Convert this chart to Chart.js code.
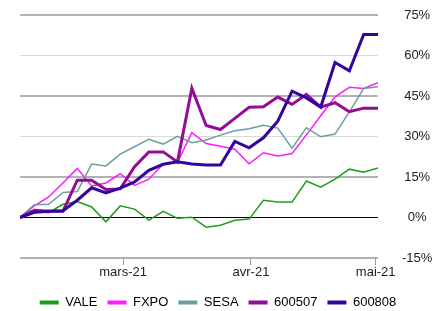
<!DOCTYPE html>
<html>
<head>
<meta charset="utf-8">
<script src="https://cdn.jsdelivr.net/npm/chart.js@4.4.0/dist/chart.umd.min.js"></script>
<style>
  html, body { margin: 0; padding: 0; background: #fff; }
</style>
</head>
<body>
<canvas id="myChart" width="447" height="311"></canvas>
<script>
// cumulative returns, % (one point every ~3.5 days, Feb -> early May 2021)
const seriesNames = ['VALE', 'FXPO', 'SESA', '600507', '600808'];
const vale = [0, 2.4, 1.8, 4.9, 5.9, 3.9, -1.6, 4.3, 3.1, -1.0, 2.3, -0.3, 0.1, -3.6, -2.9, -1.0, -0.6,
    6.4, 5.7, 5.7, 13.5, 11.2, 14.2, 17.9, 16.8, 18.3];
const fxpo = [0, 4.3, 7.6, 12.8, 18.2, 11.7, 12.8, 16.2, 11.9, 14.2, 19.8, 20.4, 31.4, 27.4, 26.4, 25.3, 19.9,
    24.0, 22.8, 23.7, 30.6, 37.7, 44.7, 48.2, 47.8, 49.9];
const sesa = [0, 4.7, 4.9, 9.3, 9.6, 19.8, 19.1, 23.5, 26.2, 29.0, 27.2, 30.1, 27.7, 28.7, 30.5, 32.1, 32.9,
    34.2, 33.1, 25.7, 33.2, 29.9, 30.9, 39.1, 47.8, 48.4];
const s600507 = [0, 2.7, 2.3, 2.3, 13.8, 13.8, 10.4, 10.6, 18.8, 24.3, 24.3, 20.6, 47.9, 34.1, 32.6, 36.7, 40.8,
    41.0, 44.6, 41.9, 45.6, 40.9, 42.5, 39.2, 40.5, 40.5];
const s600808 = [0, 1.9, 2.3, 2.5, 6.4, 11.0, 9.1, 10.9, 13.2, 17.5, 19.7, 20.6, 19.8, 19.4, 19.4, 28.2, 25.8,
    29.5, 35.7, 46.8, 44.3, 40.9, 57.4, 54.3, 67.8, 67.8];
const seriesColors = ['#1c9e1c', '#ff1aff', '#6b9e9e', '#940c96', '#34059e'];
const seriesWidths = [1.5, 1.5, 1.5, 3, 3];

// month ticks sit between points, so they are given as point positions
const monthTicks = [7.2, 16.13, 24.84];
const monthLabels = ['mars-21', 'avr-21', 'mai-21'];
const yMin = -15, yMax = 75, yStep = 15;

const allSeries = [vale, fxpo, sesa, s600507, s600808];

function toPoints(arr) {
    return arr.map(function (v, i) { return { x: i, y: v }; });
}

const datasets = allSeries.map(function (arr, k) {
    return {
        label: seriesNames[k],
        data: toPoints(arr),
        xAxisID: 'x',
        yAxisID: 'y',
        borderColor: seriesColors[k],
        backgroundColor: seriesColors[k],
        borderWidth: seriesWidths[k],
        pointRadius: 0,
        tension: 0,
        order: 5 - k
    };
});

function gridColor(c) {
    var v = c.tick.value;
    if (v === 0) return '#000000';
    if (v === 30 || v === 60) return '#d9d9d9';
    return '#b2b2b2';
}
function gridWidth(c) {
    var v = c.tick.value;
    if (v === 0 || v === 30 || v === 60) return 1;
    return 2;
}

Chart.defaults.font.family = "'Liberation Sans', Arial, sans-serif";
Chart.defaults.font.size = 13;
Chart.defaults.color = '#222';

var ctx = document.getElementById('myChart').getContext('2d');
var myChart = new Chart(ctx, {
    type: 'line',
    data: { datasets: datasets },
    options: {
        responsive: false,
        animation: false,
        layout: { padding: { left: 0, top: 15, right: 11, bottom: -8 } },
        plugins: {
            tooltip: { enabled: false },
            legend: {
                position: 'bottom',
                labels: {
                    boxWidth: 19,
                    boxHeight: 4,
                    padding: 10,
                    color: '#222',
                    generateLabels: function (chart) {
                        return chart.data.datasets.map(function (ds, i) {
                            return {
                                text: ds.label,
                                fillStyle: ds.borderColor,
                                strokeStyle: ds.borderColor,
                                lineWidth: 0,
                                datasetIndex: i
                            };
                        });
                    }
                }
            }
        },
        scales: {
            x: {
                type: 'linear',
                min: 0,
                max: allSeries[0].length - 1,
                afterBuildTicks: function (scale) {
                    scale.ticks = monthTicks.map(function (v) { return { value: v }; });
                },
                afterFit: function (scale) { scale.height = 28; },
                ticks: {
                    autoSkip: false,
                    maxRotation: 0,
                    padding: 0,
                    callback: function (v, i) { return monthLabels[i]; }
                },
                grid: {
                    drawOnChartArea: false,
                    drawTicks: true,
                    tickLength: 7,
                    color: '#999999',
                    lineWidth: 1
                },
                border: { display: false }
            },
            // empty spacer on the left
            yl: {
                position: 'left',
                min: 0,
                max: 1,
                ticks: { display: false },
                grid: { display: false },
                border: { display: false },
                afterFit: function (scale) { scale.width = 20; }
            },
            y: {
                position: 'right',
                min: yMin,
                max: yMax,
                afterFit: function (scale) { scale.width = 58; },
                ticks: {
                    stepSize: yStep,
                    crossAlign: 'center',
                    padding: 0,
                    callback: function (v) { return v + '%'; }
                },
                grid: {
                    drawTicks: true,
                    tickLength: 24,
                    tickColor: 'rgba(0,0,0,0)',
                    color: gridColor,
                    lineWidth: gridWidth
                },
                border: { display: false }
            }
        }
    }
});
</script>
</body>
</html>
